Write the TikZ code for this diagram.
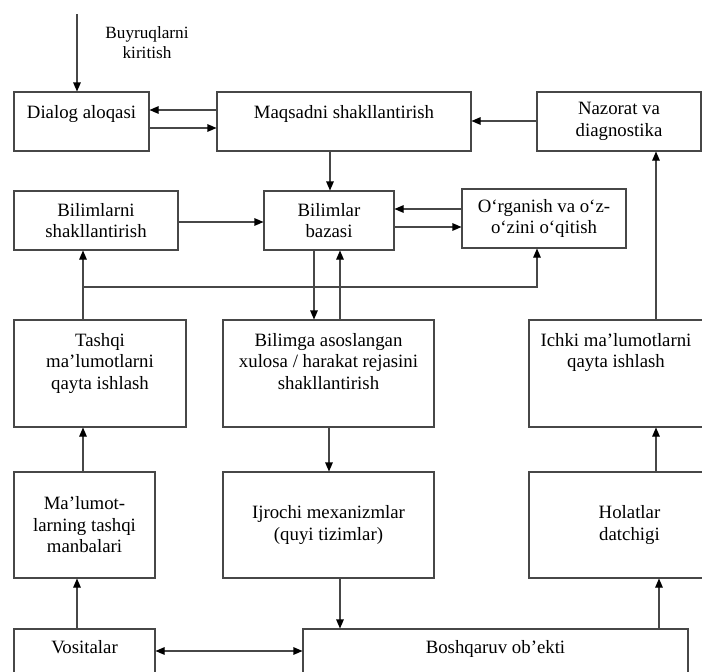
\documentclass[tikz,border=0pt]{standalone}
\usepackage{fontspec}
\setmainfont{Liberation Serif}
\usetikzlibrary{arrows.meta}
\definecolor{lc}{gray}{0.28}
\newcommand\mainsz{\fontsize{18.8}{21.5}\selectfont}
\newcommand\smallsz{\fontsize{17.2}{20}\selectfont}
\newcommand\mybox[6]{\node[box, minimum width={(#4-#2)*1pt}, minimum height={(#5-#3)*1pt}] (#1) at ({(#2+#4)/2},{(#3+#5)/2}) {#6};}
\tikzset{
  box/.style={draw=lc, line width=1.05pt, inner sep=0pt, align=center, font=\mainsz},
  lbl/.style={inner sep=0pt, align=center, font=\mainsz, anchor=north},
  conn/.style={draw=lc, line width=1.05pt},
  arr/.style={conn, -{Triangle[length=9pt,width=7.5pt,color=black]}},
  darr/.style={conn, {Triangle[length=9pt,width=7.5pt,color=black]}-{Triangle[length=9pt,width=7.5pt,color=black]}},
}
\begin{document}
\begin{tikzpicture}[x=1pt,y=-1pt]
\clip (0,0) rectangle (702,672);
\fill[white] (0,0) rectangle (702,672);
% boxes
\mybox{dialog}{14}{92}{149}{151}{}
\mybox{maqsad}{217}{92}{471}{151}{}
\mybox{nazorat}{537}{92}{701}{151}{Nazorat va\\diagnostika}
\mybox{bilsh}{14}{191}{178}{250}{Bilimlarni\\shakllantirish}
\mybox{baza}{264}{191}{394}{250}{Bilimlar\\bazasi}
\mybox{organ}{462}{189}{626}{248}{O‘rganish va o‘z-\\o‘zini o‘qitish}
\mybox{tashqi}{14}{320}{186}{427}{}
\mybox{bilimga}{223}{320}{434}{427}{}
\mybox{ichki}{529}{320}{730}{427}{}
\mybox{malumot}{14}{472}{155}{578}{Ma’lumot-\\larning tashqi\\manbalari}
\mybox{ijrochi}{223}{472}{434}{578}{Ijrochi mexanizmlar\\(quyi tizimlar)}
\mybox{holat}{529}{472}{730}{578}{Holatlar\\datchigi}
\mybox{vosita}{14}{629}{155}{710}{}
\mybox{boshq}{303}{629}{688}{710}{}
% top-aligned texts
\node[lbl] (tdialog) at (dialog.north |- 0,105) {Dialog aloqasi};
\node[lbl] (tmaqsad) at (maqsad.north |- 0,105) {Maqsadni shakllantirish};
\node[lbl] (ttashqi) at (tashqi.north |- 0,333) {Tashqi\\ma’lumotlarni\\qayta ishlash};
\node[lbl] (tbilimga) at (bilimga.north |- 0,333) {Bilimga asoslangan\\xulosa / harakat rejasini\\shakllantirish};
\node[lbl] (tichki) at (616,333) {Ichki ma’lumotlarni\\qayta ishlash};
\node[lbl] (tvosita) at (vosita.north |- 0,640) {Vositalar};
\node[lbl] (tboshq) at (boshq.north |- 0,640) {Boshqaruv ob’ekti};
\node[inner sep=0pt, align=center, font=\smallsz, anchor=north] (tbuy) at (147,26) {Buyruqlarni\\kiritish};
% connectors
\coordinate (inp) at (77,14);
\draw[arr] (inp) -- (inp |- dialog.north);
\draw[arr] (maqsad.west |- 0,110) -- (dialog.east |- 0,110);
\draw[arr] (dialog.east |- 0,128) -- (maqsad.west |- 0,128);
\draw[arr] (nazorat.west |- 0,121) -- (maqsad.east |- 0,121);
\draw[arr] (330,0 |- maqsad.south) -- (330,0 |- baza.north);
\draw[arr] (bilsh.east |- 0,222) -- (baza.west |- 0,222);
\draw[arr] (organ.west |- 0,209) -- (baza.east |- 0,209);
\draw[arr] (baza.east |- 0,227) -- (organ.west |- 0,227);
\draw[arr] (314,0 |- baza.south) -- (314,0 |- bilimga.north);
\draw[arr] (340,0 |- bilimga.north) -- (340,0 |- baza.south);
\coordinate (br) at (83,287);
\draw[arr] (br |- tashqi.north) -- (br |- bilsh.south);
\draw[arr] (br) -- (537,287) -- (537,0 |- organ.south);
\draw[arr] (83,0 |- malumot.north) -- (83,0 |- tashqi.south);
\draw[arr] (329,0 |- bilimga.south) -- (329,0 |- ijrochi.north);
\draw[arr] (340,0 |- ijrochi.south) -- (340,0 |- boshq.north);
\draw[arr] (77,0 |- vosita.north) -- (77,0 |- malumot.south);
\draw[darr] (vosita.east |- 0,651) -- (boshq.west |- 0,651);
\draw[arr] (659,0 |- boshq.north) -- (659,0 |- holat.south);
\draw[arr] (656,0 |- holat.north) -- (656,0 |- ichki.south);
\draw[arr] (656,0 |- ichki.north) -- (656,0 |- nazorat.south);
\end{tikzpicture}
\end{document}
